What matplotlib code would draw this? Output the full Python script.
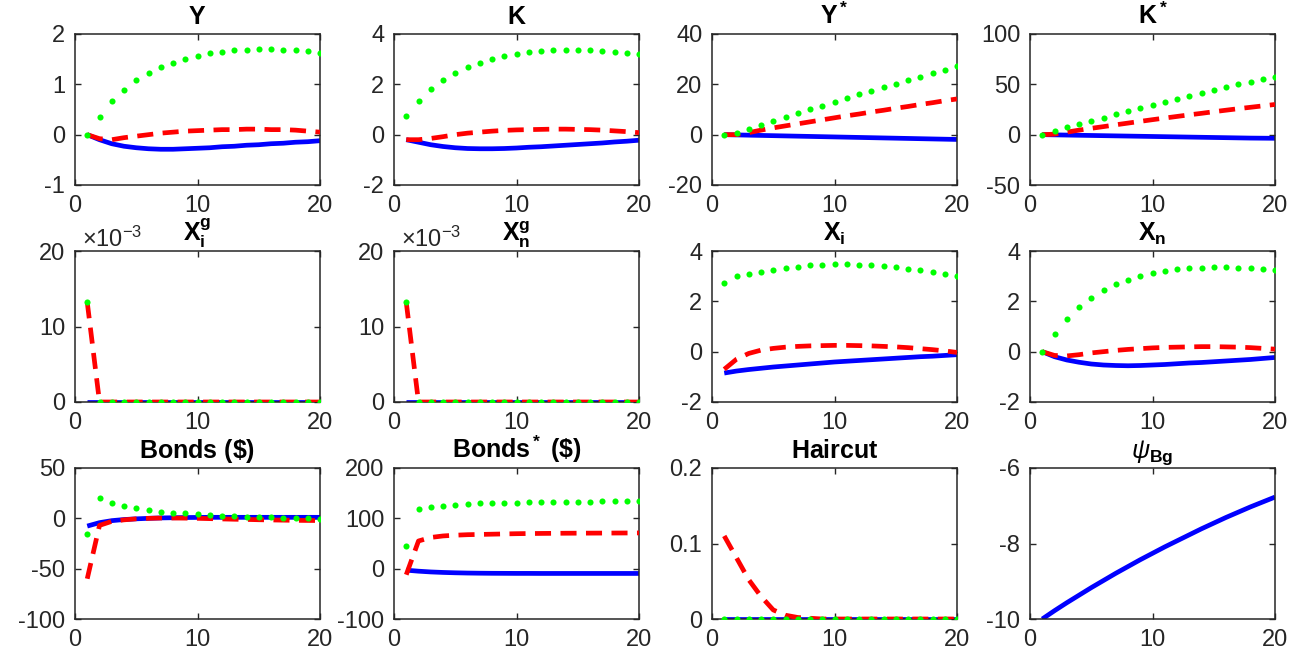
import numpy as np
import matplotlib
matplotlib.use('Agg')
from matplotlib import pyplot as plt
from matplotlib.ticker import FuncFormatter

plt.rcParams['font.family'] = ['Liberation Sans', 'DejaVu Sans']
plt.rcParams['mathtext.fontset'] = 'custom'
plt.rcParams['mathtext.rm'] = 'Liberation Sans'
plt.rcParams['mathtext.it'] = 'Liberation Sans:italic'
plt.rcParams['mathtext.bf'] = 'Liberation Sans:bold'
plt.rcParams['axes.unicode_minus'] = False

horizon = list(range(1, 21))

# --- impulse responses (blue, red, green) ---
y_blue = [0, -0.1, -0.18, -0.23, -0.26, -0.28, -0.29, -0.29, -0.28, -0.27, -0.26, -0.24, -0.23, -0.21, -0.2, -0.18, -0.17, -0.15, -0.14, -0.12]
y_red = [0, -0.08, -0.1, -0.06, -0.03, 0.0, 0.03, 0.05, 0.07, 0.08, 0.09, 0.1, 0.1, 0.11, 0.11, 0.1, 0.1, 0.09, 0.07, 0.05]
y_green = [0, 0.36, 0.67, 0.89, 1.08, 1.22, 1.34, 1.43, 1.5, 1.57, 1.62, 1.65, 1.68, 1.69, 1.7, 1.7, 1.69, 1.68, 1.66, 1.63]

k_blue = [-0.2, -0.3, -0.4, -0.47, -0.52, -0.55, -0.56, -0.56, -0.55, -0.53, -0.5, -0.48, -0.45, -0.42, -0.39, -0.36, -0.33, -0.29, -0.26, -0.22]
k_red = [-0.2, -0.2, -0.15, -0.08, 0.0, 0.06, 0.1, 0.14, 0.17, 0.19, 0.2, 0.21, 0.22, 0.22, 0.21, 0.2, 0.18, 0.15, 0.12, 0.08]
k_green = [0.73, 1.32, 1.8, 2.17, 2.46, 2.68, 2.86, 3.0, 3.12, 3.22, 3.29, 3.34, 3.37, 3.38, 3.38, 3.37, 3.34, 3.3, 3.26, 3.2]

ys_blue = [0, -0.1, -0.2, -0.3, -0.4, -0.5, -0.6, -0.7, -0.8, -0.9, -1.0, -1.1, -1.2, -1.3, -1.4, -1.5, -1.6, -1.7, -1.8, -1.9]
ys_red = [0, 0, 0.8, 1.8, 2.7, 3.5, 4.3, 5.1, 5.9, 6.7, 7.5, 8.2, 9.0, 9.7, 10.5, 11.2, 12.0, 12.7, 13.5, 14.2]
ys_green = [0, 0.5, 2.2, 3.8, 5.3, 7.0, 8.5, 10.0, 11.5, 13.0, 14.5, 16.0, 17.3, 18.8, 20.2, 21.6, 23.0, 24.4, 25.8, 27.2]

ks_blue = [0, -0.2, -0.4, -0.6, -0.8, -1.0, -1.2, -1.4, -1.6, -1.8, -2.0, -2.2, -2.4, -2.6, -2.8, -3.0, -3.2, -3.4, -3.5, -3.6]
ks_red = [0, 0.5, 2.5, 4.5, 6.3, 8.0, 9.8, 11.5, 13.2, 14.9, 16.5, 18.1, 19.7, 21.2, 22.8, 24.3, 25.8, 27.2, 28.6, 30.0]
ks_green = [0, 4.0, 7.3, 10.5, 13.8, 17.0, 20.2, 23.3, 26.5, 29.6, 32.6, 35.6, 38.6, 41.5, 44.4, 47.2, 50.0, 52.8, 55.5, 57.5]

xgi_blue = [0] * 20
xgi_red = [0.0132] + [0] * 19
xgi_green = [0.0132] + [0] * 19

xgn_blue = [0] * 20
xgn_red = [0.0132] + [0] * 19
xgn_green = [0.0132] + [0] * 19

xi_blue = [-0.85, -0.77, -0.71, -0.66, -0.61, -0.57, -0.53, -0.49, -0.45, -0.41, -0.38, -0.35, -0.32, -0.29, -0.26, -0.23, -0.2, -0.18, -0.15, -0.12]
xi_red = [-0.7, -0.3, -0.07, 0.06, 0.13, 0.18, 0.21, 0.23, 0.24, 0.25, 0.25, 0.24, 0.23, 0.21, 0.19, 0.16, 0.12, 0.08, 0.03, -0.03]
xi_green = [2.72, 2.99, 3.08, 3.17, 3.25, 3.32, 3.38, 3.43, 3.46, 3.48, 3.48, 3.46, 3.44, 3.4, 3.36, 3.3, 3.24, 3.17, 3.1, 3.02]

xn_blue = [0, -0.2, -0.33, -0.42, -0.49, -0.53, -0.55, -0.56, -0.55, -0.53, -0.51, -0.48, -0.45, -0.43, -0.4, -0.37, -0.34, -0.31, -0.27, -0.23]
xn_red = [0, -0.15, -0.17, -0.12, -0.05, 0.0, 0.05, 0.09, 0.12, 0.15, 0.17, 0.18, 0.19, 0.2, 0.2, 0.19, 0.18, 0.16, 0.13, 0.1]
xn_green = [0, 0.72, 1.3, 1.78, 2.15, 2.44, 2.67, 2.85, 3.0, 3.12, 3.2, 3.27, 3.31, 3.34, 3.35, 3.35, 3.34, 3.32, 3.29, 3.25]

b_blue = [-7.7, -4.3, -2.3, -1.2, -0.5, 0.0, 0.4, 0.6, 0.8, 0.9, 1.0, 1.0, 1.0, 1.0, 1.0, 1.0, 1.0, 1.0, 1.0, 1.0]
b_red = [-60, -7, -3, -1.5, -0.5, 0.0, 0.3, 0.3, 0.2, 0.0, -0.3, -0.6, -0.9, -1.1, -1.4, -1.6, -1.8, -2.0, -2.1, -2.2]
b_green = [-15.3, 20, 15.3, 12, 10, 8.3, 6.7, 5.7, 5, 4, 3.3, 2.7, 2, 1.7, 1.3, 1, 0.7, 0.3, 0, -0.3]

bs_blue = [-3, -5, -6.5, -7.5, -8.2, -8.7, -9.0, -9.2, -9.3, -9.4, -9.4, -9.5, -9.5, -9.5, -9.5, -9.5, -9.5, -9.5, -9.5, -9.5]
bs_red = [-12, 55, 62, 65, 66.5, 67.5, 68, 68.5, 69, 69.5, 69.8, 70, 70.2, 70.4, 70.5, 70.6, 70.7, 70.8, 70.9, 71]
bs_green = [45, 118, 122, 125, 127, 128.5, 129.5, 130, 130.7, 131.2, 131.7, 132.1, 132.5, 132.8, 133.1, 133.4, 133.6, 133.8, 134, 134.2]

hc_blue = [0] * 20
hc_red = [0.11, 0.081, 0.052, 0.03, 0.012, 0.005, 0.002, 0.001, 0, 0, 0, 0, 0, 0, 0, 0, 0, 0, 0, 0]
hc_green = [0] * 20

psi_blue = [-10, -9.78, -9.57, -9.37, -9.17, -8.98, -8.79, -8.61, -8.43, -8.26, -8.09, -7.93, -7.77, -7.61, -7.46, -7.31, -7.17, -7.03, -6.9, -6.77]

titles = [r'$\mathbf{Y}$', r'$\mathbf{K}$', r'$\mathbf{Y^*}$', r'$\mathbf{K^*}$',
          r'$\mathbf{X_i^g}$', r'$\mathbf{X_n^g}$', r'$\mathbf{X_i}$', r'$\mathbf{X_n}$',
          r'$\mathbf{Bonds\ (\$)}$', r'$\mathbf{Bonds^*\ (\$)}$', r'$\mathbf{Haircut}$', r'$\psi_{\mathbf{Bg}}$']

series = [
    (y_blue, y_red, y_green), (k_blue, k_red, k_green),
    (ys_blue, ys_red, ys_green), (ks_blue, ks_red, ks_green),
    (xgi_blue, xgi_red, xgi_green), (xgn_blue, xgn_red, xgn_green),
    (xi_blue, xi_red, xi_green), (xn_blue, xn_red, xn_green),
    (b_blue, b_red, b_green), (bs_blue, bs_red, bs_green),
    (hc_blue, hc_red, hc_green), (psi_blue, None, None),
]
yticks = [[-1, 0, 1, 2], [-2, 0, 2, 4], [-20, 0, 20, 40], [-50, 0, 50, 100],
          [0, 0.01, 0.02], [0, 0.01, 0.02], [-2, 0, 2, 4], [-2, 0, 2, 4],
          [-100, -50, 0, 50], [-100, 0, 100, 200], [0, 0.1, 0.2], [-10, -8, -6]]

axcol = (0.15, 0.15, 0.15)
fig = plt.figure(figsize=(13.01, 6.54), dpi=100)
lefts = [75, 394, 712, 1030]
bottoms = [185, 402, 619]
W, H = 1301.0, 654.0
for i in range(12):
    r, c = i // 4, i % 4
    ax = fig.add_axes([lefts[c] / W, 1 - bottoms[r] / H, 245 / W, 151 / H])
    blue, red, green = series[i]
    ax.plot(horizon, blue, color=(0, 0, 1), lw=3.4, solid_capstyle='butt', zorder=2)
    if red is not None:
        ax.plot(horizon, red, color=(1, 0, 0), lw=3.4, ls=(0, (3.4, 2.0)), zorder=3)
    if green is not None:
        ax.plot(horizon, green, ls='none', marker='o', ms=4.4, mew=0, color=(0, 1, 0), zorder=4)
    yt = yticks[i]
    ax.set_xlim(0, 20)
    ax.set_ylim(yt[0], yt[-1])
    ax.set_xticks([0, 10, 20])
    ax.set_yticks(yt)
    if i in (4, 5):
        ax.yaxis.set_major_formatter(FuncFormatter(lambda v, p: '%g' % round(v * 1000, 6)))
        ax.text(0.03, 0.995, r'$\times10^{-3}$', transform=ax.transAxes, fontsize=17,
                color=axcol, ha='left', va='bottom')
    else:
        ax.yaxis.set_major_formatter(FuncFormatter(lambda v, p: '%g' % round(v, 6)))
    ax.tick_params(direction='in', length=4, width=1, top=True, right=True,
                   labelsize=17, colors=axcol, labelcolor=axcol, pad=7)
    for s in ax.spines.values():
        s.set_color(axcol)
        s.set_linewidth(1.1)
    ax.set_title(titles[i], fontsize=18, pad=7)

fig.savefig('out.png', dpi=100)
